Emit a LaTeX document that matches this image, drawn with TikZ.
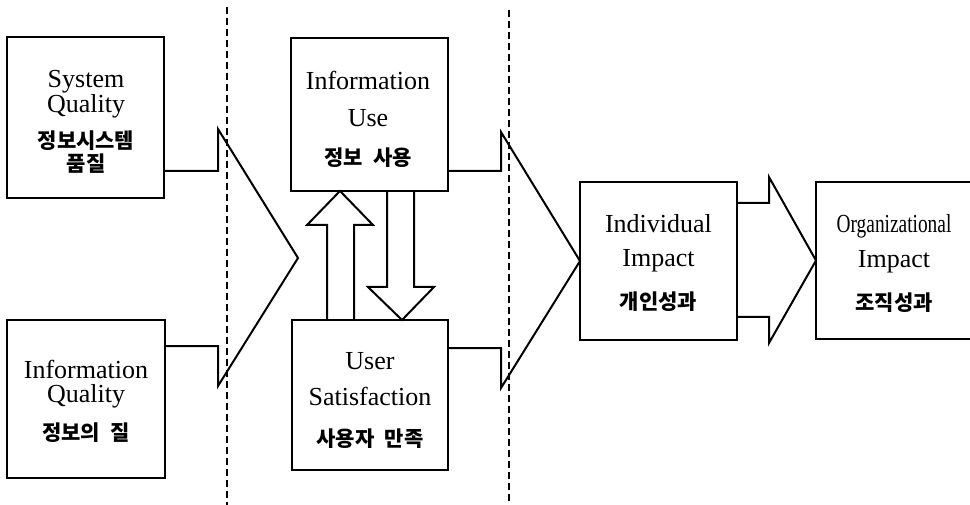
\documentclass[tikz,border=0pt]{standalone}
\usepackage{fontspec}
\usepackage{graphicx}
\setmainfont{Liberation Serif}
\newfontfamily\kr{Noto Sans CJK KR}
\usetikzlibrary{calc}
\begin{document}
\begin{tikzpicture}[x=1pt,y=-1pt,
  boxnode/.style={draw, line width=2pt, inner sep=0pt, outer sep=0pt},
  blockarr/.style={draw, line width=2pt, line join=miter},
  divider/.style={line width=2pt, dash pattern=on 7pt off 4pt},
  en/.style={font=\fontsize{26}{28}\selectfont, anchor=base, inner sep=0pt},
  ko/.style={font=\kr\bfseries\fontsize{21}{23}\selectfont, anchor=base, inner sep=0pt}]
\useasboundingbox (0,0) rectangle (970,505);

% boxes
\node[boxnode, minimum width=157pt, minimum height=161pt] (b1) at (85.5,117.5) {};
\node[boxnode, minimum width=158pt, minimum height=158pt] (b2) at (86,399) {};
\node[boxnode, minimum width=157pt, minimum height=153pt] (b3) at (369.5,114.5) {};
\node[boxnode, minimum width=156pt, minimum height=150pt] (b4) at (370,395) {};
\node[boxnode, minimum width=157pt, minimum height=158pt] (b5) at (658.5,261) {};
\node[boxnode, minimum width=158pt, minimum height=157pt] (b6) at (895,260.5) {};

% texts
\node[en] (t1a) at (86,88) {System};
\node[en] (t1b) at (86,113) {Quality};
\node[ko] (t1c) at (86,149) {정보시스템};
\node[ko] (t1d) at (86,172) {품질};

\node[en] (t2a) at (86,378) {Information};
\node[en] (t2b) at (86,402) {Quality};
\node[ko] (t2c) at (86,440) {정보의\hspace{0.5em}질};

\node[en] (t3a) at (368,90) {Information};
\node[en] (t3b) at (368,127) {Use};
\node[ko] (t3c) at (368,166) {정보\hspace{0.5em}사용};

\node[en] (t4a) at (370,370) {User};
\node[en] (t4b) at (370,405) {Satisfaction};
\node[ko] (t4c) at (370,446) {사용자\hspace{0.5em}만족};

\node[en] (t5a) at (658.5,233) {Individual};
\node[en] (t5b) at (658.5,267) {Impact};
\node[ko] (t5c) at (658.5,310) {개인성과};

\node[en] (t6a) at (894,233) {\scalebox{0.745}[1]{Organizational}};
\node[en] (t6b) at (894,268) {Impact};
\node[ko] (t6c) at (894,311) {조직성과};

% dashed dividers
\draw[divider] (227,7) -- (227,505);
\draw[divider] (509,10) -- (509,505);

% big block arrows
\draw[blockarr] ($(b1.north east)+(0,134)$) -- (218,171) -- (218,129) -- (298,258)
  -- (218,386) -- (218,346) -- ($(b2.north east)+(0,26)$);
\draw[blockarr] ($(b3.north east)+(0,133)$) -- (501,171) -- (501,132) -- (b5.west)
  -- (501,388) -- (501,348) -- ($(b4.north east)+(0,28)$);
\draw[blockarr] ($(b5.north east)+(0,21)$) -- (769,203) -- (769,177) -- (b6.west)
  -- (769,343) -- (769,317) -- ($(b5.north east)+(0,135)$);

% hollow up arrow (user satisfaction -> information use)
\draw[blockarr] ($(b4.north west)+(35,0)$) -- (327,225) -- (307,225) -- ($(b3.south west)+(49,0)$)
  -- (373,225) -- (354,225) -- ($(b4.north west)+(62,0)$);
% hollow down arrow (information use -> user satisfaction)
\draw[blockarr] ($(b3.south west)+(96,0)$) -- (387,287) -- (368,287) -- ($(b4.north west)+(110,0)$)
  -- (434,287) -- (414,287) -- ($(b3.south west)+(123,0)$);
\end{tikzpicture}
\end{document}
